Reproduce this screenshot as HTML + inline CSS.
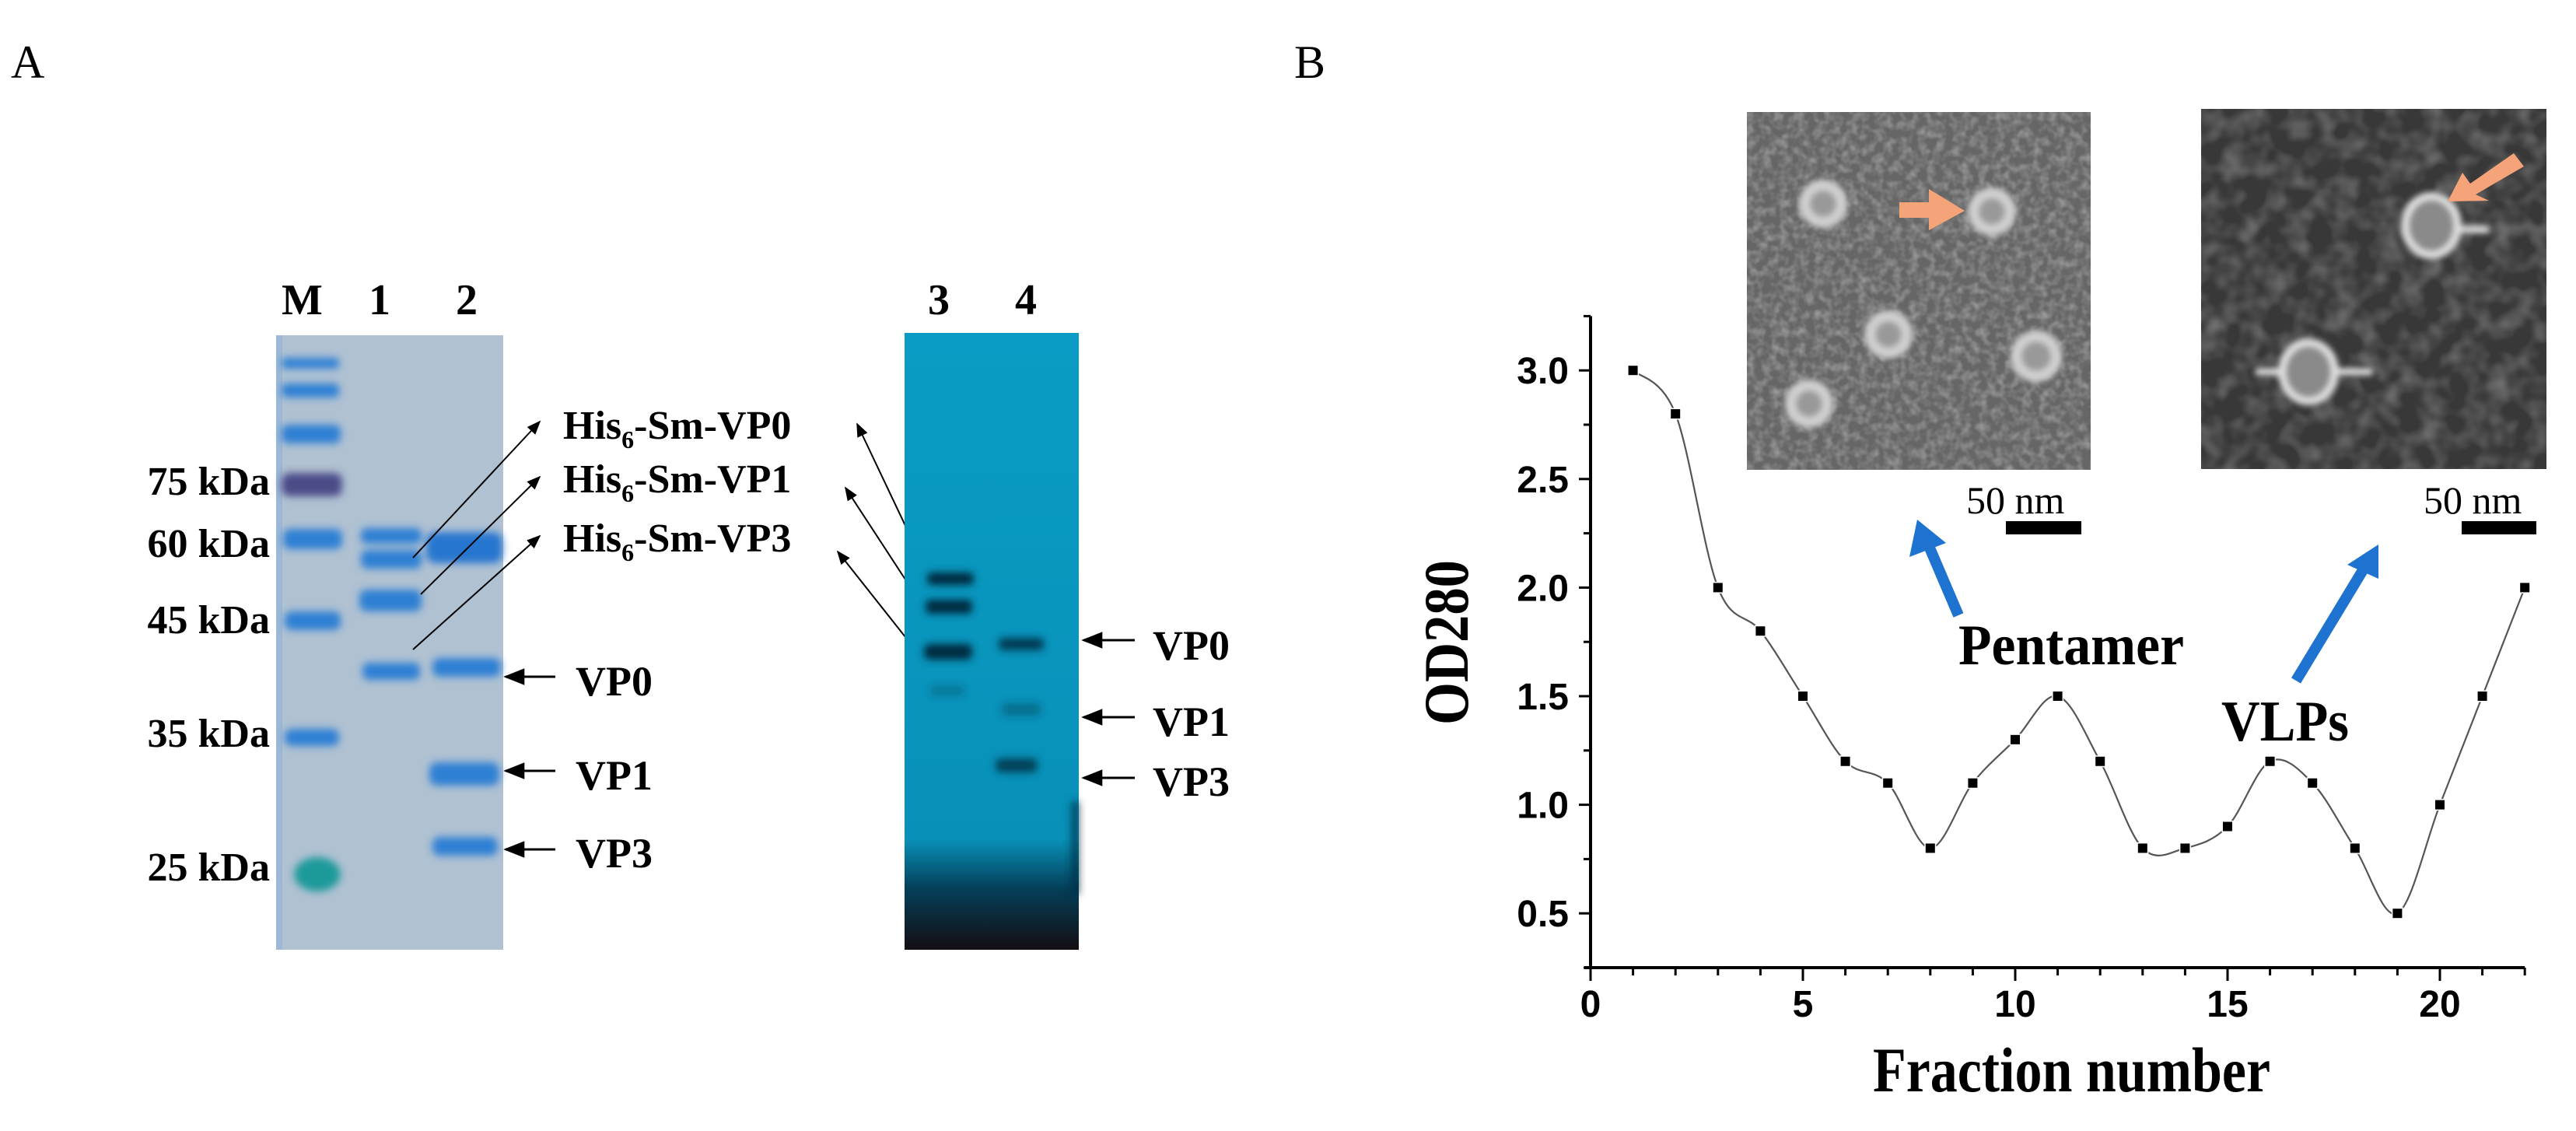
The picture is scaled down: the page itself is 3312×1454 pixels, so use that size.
<!DOCTYPE html>
<html><head><meta charset="utf-8"><style>
html,body{margin:0;padding:0;background:#fff;}
svg{display:block;}
.tb{font-family:"Liberation Serif",serif;font-weight:bold;fill:#000;}
.ax{font-family:"Liberation Sans",sans-serif;font-weight:bold;fill:#000;}
</style></head><body>
<svg id="fig" width="3312" height="1454" viewBox="0 0 3312 1454" xmlns="http://www.w3.org/2000/svg">
<defs>
<filter id="noiseL" x="0" y="0" width="100%" height="100%">
<feTurbulence type="fractalNoise" baseFrequency="0.09" numOctaves="2" seed="3"/>
<feColorMatrix type="matrix" values="0 0 0 0 0.85  0 0 0 0 0.85  0 0 0 0 0.85  1.2 0 0 0 -0.45"/>
</filter>
<filter id="noiseD" x="0" y="0" width="100%" height="100%">
<feTurbulence type="fractalNoise" baseFrequency="0.035" numOctaves="2" seed="7"/>
<feColorMatrix type="matrix" values="0 0 0 0 0.8  0 0 0 0 0.8  0 0 0 0 0.8  1.3 0 0 0 -0.5"/>
</filter>
<filter id="blur6"><feGaussianBlur stdDeviation="5"/></filter>
<filter id="blur3"><feGaussianBlur stdDeviation="4"/></filter>
<marker id="ah" viewBox="0 0 10 10" refX="9" refY="5" markerWidth="9" markerHeight="9" orient="auto-start-reverse"><path d="M0,1 L10,5 L0,9 Z" fill="#000"/></marker>
<linearGradient id="gel2bot" x1="0" y1="0" x2="0" y2="1">
<stop offset="0" stop-color="#0a9cc4"/><stop offset="0.82" stop-color="#0891b8"/><stop offset="0.9" stop-color="#04405a"/><stop offset="1" stop-color="#140e12"/>
</linearGradient>
</defs>

<text x="14" y="100" font-family="Liberation Serif,serif" font-size="60">A</text>
<text x="1664" y="100" font-family="Liberation Serif,serif" font-size="60">B</text>

<!-- Gel 1 -->
<g>
<rect x="355" y="431" width="292" height="790" fill="#b0c1d2"/>
<rect x="355" y="431" width="8" height="790" fill="#8fb2d8" opacity="0.6"/>
<g filter="url(#blur6)">
<g fill="#2f80d4">
<rect x="362" y="460" width="74" height="14" rx="5"/>
<rect x="362" y="493" width="74" height="18" rx="6"/>
<rect x="362" y="546" width="76" height="24" rx="8"/>
<rect x="362" y="608" width="78" height="30" rx="10" fill="#4c4c88"/>
<rect x="364" y="680" width="76" height="26" rx="9"/>
<rect x="366" y="786" width="72" height="24" rx="9"/>
<rect x="366" y="937" width="70" height="22" rx="9"/>
<ellipse cx="408" cy="1124" rx="30" ry="22" fill="#1a9a9a"/>
<rect x="464" y="679" width="78" height="20" rx="7"/>
<rect x="464" y="707" width="78" height="24" rx="8"/>
<rect x="462" y="758" width="80" height="28" rx="9"/>
<rect x="466" y="852" width="74" height="22" rx="8"/>
<rect x="548" y="684" width="98" height="40" rx="12" fill="#2876d0"/>
<rect x="556" y="846" width="88" height="24" rx="9"/>
<rect x="552" y="980" width="90" height="30" rx="10"/>
<rect x="556" y="1076" width="84" height="24" rx="9"/>
</g>
</g>
</g>
<g class="tb" font-size="56">
<text x="362" y="404">M</text><text x="474" y="404">1</text><text x="586" y="404">2</text>
</g>
<g class="tb" font-size="52" text-anchor="end">
<text x="347" y="636">75 kDa</text><text x="347" y="716">60 kDa</text><text x="347" y="814">45 kDa</text>
<text x="347" y="960">35 kDa</text><text x="347" y="1132">25 kDa</text>
</g>
<g class="tb" font-size="52">
<text x="724" y="564">His<tspan font-size="32" dy="12">6</tspan><tspan dy="-12">-Sm-VP0</tspan></text>
<text x="724" y="633">His<tspan font-size="32" dy="12">6</tspan><tspan dy="-12">-Sm-VP1</tspan></text>
<text x="724" y="709">His<tspan font-size="32" dy="12">6</tspan><tspan dy="-12">-Sm-VP3</tspan></text>
</g>
<g stroke="#000" stroke-width="2" fill="none" marker-end="url(#ah)">
<line x1="531" y1="717" x2="694" y2="542"/>
<line x1="541" y1="764" x2="694" y2="613"/>
<line x1="531" y1="835" x2="694" y2="689"/>
<line x1="1194" y1="739" x2="1102" y2="545"/>
<line x1="1181" y1="771" x2="1087" y2="627"/>
<line x1="1168" y1="824" x2="1077" y2="709"/>
<line x1="714" y1="870" x2="650" y2="870" stroke-width="3"/>
<line x1="714" y1="991" x2="650" y2="991" stroke-width="3"/>
<line x1="714" y1="1092" x2="650" y2="1092" stroke-width="3"/>
<line x1="1459" y1="823" x2="1393" y2="823" stroke-width="3"/>
<line x1="1459" y1="922" x2="1393" y2="922" stroke-width="3"/>
<line x1="1459" y1="1000" x2="1393" y2="1000" stroke-width="3"/>
</g>
<g class="tb" font-size="54">
<text x="740" y="894">VP0</text><text x="740" y="1015">VP1</text><text x="740" y="1115">VP3</text>
</g>

<!-- Gel 2 -->
<g>
<rect x="1163" y="428" width="224" height="793" fill="url(#gel2bot)"/>
<g filter="url(#blur6)" fill="#062a40">
<rect x="1192" y="736" width="60" height="16" rx="6"/>
<rect x="1190" y="771" width="60" height="18" rx="6"/>
<rect x="1188" y="828" width="62" height="20" rx="7"/>
<rect x="1196" y="882" width="44" height="12" rx="5" opacity="0.3"/>
<rect x="1284" y="820" width="58" height="16" rx="6" opacity="0.85"/>
<rect x="1288" y="904" width="50" height="16" rx="6" opacity="0.35"/>
<rect x="1280" y="975" width="54" height="18" rx="7" opacity="0.8"/>
<rect x="1378" y="1030" width="9" height="120" opacity="0.8"/>
</g>
</g>
<g class="tb" font-size="56">
<text x="1193" y="404">3</text><text x="1305" y="404">4</text>
</g>
<g class="tb" font-size="54">
<text x="1482" y="848">VP0</text><text x="1482" y="946">VP1</text><text x="1482" y="1023">VP3</text>
</g>

<!-- EM insets -->
<g>
<rect x="2246" y="144" width="442" height="460" fill="#666"/>
<rect x="2246" y="144" width="442" height="460" filter="url(#noiseL)" opacity="0.6"/>
<g fill="#999" stroke="#d0d0d0" stroke-width="14" filter="url(#blur3)">
<circle cx="2344" cy="262" r="24"/><circle cx="2561" cy="272" r="24"/>
<circle cx="2428" cy="430" r="24"/><circle cx="2618" cy="458" r="26"/><circle cx="2326" cy="519" r="24"/>
</g>
<polygon points="2442,260 2480,260 2480,243 2526,271 2480,296 2480,280 2442,280" fill="#f4a478"/>
</g>
<g>
<rect x="2830" y="140" width="444" height="463" fill="#383838"/>
<rect x="2830" y="140" width="444" height="463" filter="url(#noiseD)" opacity="0.5"/>
<g stroke="#e0e0e0" filter="url(#blur3)" fill="#8a8a8a">
<ellipse cx="3126" cy="290" rx="34" ry="38" stroke-width="10"/>
<line x1="3160" y1="295" x2="3200" y2="295" stroke-width="9"/>
<ellipse cx="2968" cy="478" rx="34" ry="38" stroke-width="10"/>
<line x1="2900" y1="478" x2="2934" y2="478" stroke-width="9"/><line x1="3002" y1="478" x2="3050" y2="478" stroke-width="9"/>
</g>
<polygon points="3232,197 3245,214 3183,250 3200,258 3147,259 3166,222 3176,236" fill="#f4a478"/>
</g>
<g>
<text x="2528" y="660" font-family="Liberation Serif,serif" font-size="50">50 nm</text>
<rect x="2579" y="670" width="97" height="17" fill="#000"/>
<text x="3116" y="660" font-family="Liberation Serif,serif" font-size="50">50 nm</text>
<rect x="3165" y="670" width="96" height="17" fill="#000"/>
</g>
<g stroke="#1f73d0" stroke-width="14" fill="#1f73d0">
<line x1="2518" y1="791" x2="2480" y2="702"/>
<polygon points="2465,668 2455,716 2502,698" stroke="none"/>
<line x1="2952" y1="875" x2="3038" y2="733"/>
<polygon points="3058,700 3018,726 3058,744" stroke="none"/>
</g>
<text class="tb" x="2518" y="854" font-size="74" textLength="290" lengthAdjust="spacingAndGlyphs">Pentamer</text>
<text class="tb" x="2856" y="952" font-size="74" textLength="164" lengthAdjust="spacingAndGlyphs">VLPs</text>

<g id="chart"></g>
</svg>
<script>
const fractions = [1,2,3,4,5,6,7,8,9,10,11,12,13,14,15,16,17,18,19,20,21,22];
const od280 = [3.0,2.8,2.0,1.8,1.5,1.2,1.1,0.8,1.1,1.3,1.5,1.2,0.8,0.8,0.9,1.2,1.1,0.8,0.5,1.0,1.5,2.0];
const xTickLabels = [0,5,10,15,20];
const yTickLabels = [0.5,1.0,1.5,2.0,2.5,3.0];

const NS = "http://www.w3.org/2000/svg";
const g = document.getElementById('chart');
const X0 = 2045, XU = 54.6, YB = 1244, YMIN = 0.25, YU = 279.2;
const sx = v => X0 + v * XU;
const sy = v => YB - (v - YMIN) * YU;
function mk(tag, attrs, parent) {
  const e = document.createElementNS(NS, tag);
  for (const k in attrs) e.setAttribute(k, attrs[k]);
  (parent || g).appendChild(e);
  return e;
}
const yAxis = mk('line', {x1: X0, y1: sy(3.25), x2: X0, y2: YB + 2, stroke: '#000', 'stroke-width': 4});


const xAxis = mk('line', {x1: X0 - 8, y1: YB, x2: sx(22), y2: YB, stroke: '#000', 'stroke-width': 4});


for (let i = 0; i <= 22; i++) {
  const major = xTickLabels.includes(i);
  mk('line', {x1: sx(i), y1: YB, x2: sx(i), y2: YB + (major ? 17 : 10), stroke: '#000', 'stroke-width': 3});
}
xTickLabels.forEach(v => {
  const t = mk('text', {x: sx(v), y: 1307, 'text-anchor': 'middle', 'font-size': 48, class: 'ax'});
  t.textContent = v;
  
  
});
for (let v = 0.25; v <= 3.26; v += 0.25) {
  const major = Math.abs(v * 2 - Math.round(v * 2)) < 1e-6;
  mk('line', {x1: X0, y1: sy(v), x2: X0 - (major ? 15 : 9), y2: sy(v), stroke: '#000', 'stroke-width': 3});
}
yTickLabels.forEach(v => {
  const t = mk('text', {x: 2017, y: sy(v) + 17, 'text-anchor': 'end', 'font-size': 48, class: 'ax'});
  t.textContent = v.toFixed(1);
  
  
});
const pts = fractions.map((f, i) => [sx(f), sy(od280[i])]);
let d = `M${pts[0][0]},${pts[0][1]}`;
for (let i = 0; i < pts.length - 1; i++) {
  const p0 = pts[Math.max(0, i - 1)], p1 = pts[i], p2 = pts[i + 1], p3 = pts[Math.min(pts.length - 1, i + 2)];
  const c1 = [p1[0] + (p2[0] - p0[0]) / 6, p1[1] + (p2[1] - p0[1]) / 6];
  const c2 = [p2[0] - (p3[0] - p1[0]) / 6, p2[1] - (p3[1] - p1[1]) / 6];
  d += ` C${c1[0]},${c1[1]} ${c2[0]},${c2[1]} ${p2[0]},${p2[1]}`;
}
const line = mk('path', {d: d, fill: 'none', stroke: '#555', 'stroke-width': 2.2});


pts.forEach(p => {
  const r = mk('rect', {x: p[0] - 6, y: p[1] - 6, width: 12, height: 12, fill: '#000', stroke: '#fff', 'stroke-width': 3, 'paint-order': 'stroke'});
  
  
});
const xt = mk('text', {x: 2408, y: 1403, 'font-size': 82, class: 'tb', textLength: 511, lengthAdjust: 'spacingAndGlyphs'});
xt.textContent = 'Fraction number';


const yt = mk('text', {x: 0, y: 0, 'font-size': 82, class: 'tb', 'text-anchor': 'middle', textLength: 212, lengthAdjust: 'spacingAndGlyphs', transform: 'translate(1887,826) rotate(-90)'});
yt.textContent = 'OD280';


</script>
</body></html>
